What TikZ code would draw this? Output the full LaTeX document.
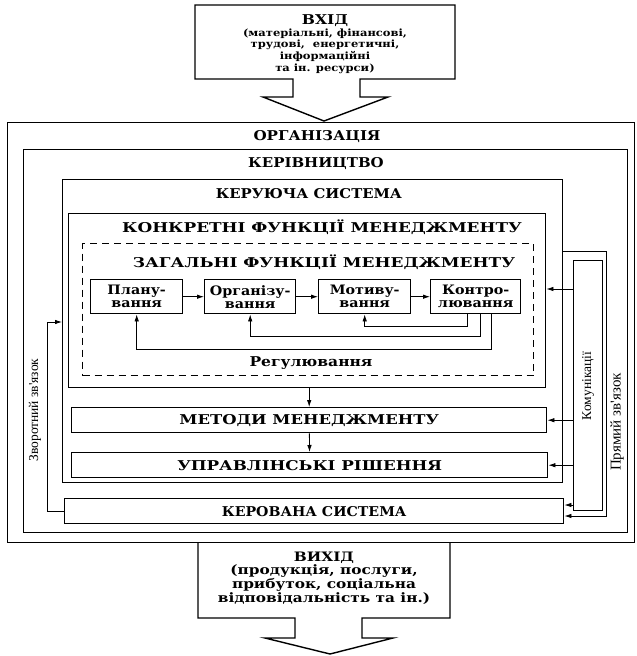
\documentclass[tikz,border=0pt]{standalone}
\usepackage{fontspec}
\usepackage{graphicx}
\setmainfont{DejaVu Serif}
\newfontfamily\vfont{Liberation Serif}
\newfontfamily\wideA[FakeStretch=1.18]{DejaVu Serif}
\newfontfamily\wideB[FakeStretch=1.1]{DejaVu Serif}
\newfontfamily\wideC[FakeStretch=1.15]{DejaVu Serif}
\newcommand\hsc[2]{\scalebox{#1}[1]{#2}}
\usetikzlibrary{arrows.meta}
\begin{document}
\begin{tikzpicture}[x=1pt,y=-1pt,
  box/.style={draw, line width=1.4pt, rectangle, inner sep=0pt, anchor=north west},
  ttl/.style={font=\wideA\bfseries\fontsize{13.5}{14}\selectfont, inner sep=0pt},
  fn/.style={box, font=\wideB\bfseries\fontsize{13}{13}\selectfont, align=center},
  bartxt/.style={box, font=\wideA\bfseries\fontsize{13.5}{14}\selectfont},
  ln/.style={line width=0.8pt},
  arr/.style={ln, -{Latex[length=7pt,width=4.5pt]}},
  vt/.style={font=\vfont\fontsize{13.5}{14}\selectfont, rotate=90, inner sep=0pt}]
\useasboundingbox (0,0) rectangle (637,656);
% input arrow
\draw[line width=1.4pt, line join=miter] (195,5) -- (455,5) -- (455,79) -- (360,79) -- (360,97) -- (388,97) -- (324,121) -- (263,97) -- (293,97) -- (293,79) -- (195,79) -- cycle;
\node[align=center, font=\wideC\bfseries\fontsize{10}{11.8}\selectfont, inner sep=0pt] (in) at (325,44)
  {{\fontsize{13.5}{11.8}\selectfont ВХІД}\\(матеріальні, фінансові,\\трудові,\ \ енергетичні,\\інформаційні\\та ін. ресурси)};
% containers
\node[box, minimum width=627pt, minimum height=420pt] (org) at (7,122) {};
\node[ttl] (orgt) at (317,137) {\hsc{0.95}{ОРГАНІЗАЦІЯ}};
\node[box, minimum width=604pt, minimum height=383pt] (kerivn) at (23,149) {};
\node[ttl] (kerivnt) at (316,164) {\hsc{0.94}{КЕРІВНИЦТВО}};
\node[box, minimum width=500pt, minimum height=303pt] (keru) at (62,179) {};
\node[ttl] (kerut) at (309,194) {\hsc{0.93}{КЕРУЮЧА СИСТЕМА}};
\node[box, minimum width=477pt, minimum height=174pt] (konk) at (68,213) {};
\node[ttl] (konkt) at (322,227) {\hsc{1.06}{КОНКРЕТНІ ФУНКЦІЇ МЕНЕДЖМЕНТУ}};
\node[box, dash pattern=on 7pt off 5pt, minimum width=451pt, minimum height=132pt] (zag) at (82,243) {};
\node[ttl] (zagt) at (324,262) {\hsc{1.065}{ЗАГАЛЬНІ ФУНКЦІЇ МЕНЕДЖМЕНТУ}};
% function boxes
\node[fn, minimum width=92pt, minimum height=34pt] (P) at (90,279) {Плану-\\вання};
\node[fn, minimum width=91pt, minimum height=34pt] (O) at (204,279) {Організу-\\вання};
\node[fn, minimum width=92pt, minimum height=34pt] (M) at (318,279) {Мотиву-\\вання};
\node[fn, minimum width=90pt, minimum height=34pt] (K) at (430,279) {Контро-\\лювання};
\draw[arr] (P) -- (O);
\draw[arr] (O) -- (M);
\draw[arr] (M) -- (K);
\draw[arr] ([xshift=-8pt]K.south) -- ++(0,12) -| (M.south);
\draw[arr] ([xshift=5pt]K.south) -- ++(0,22) -| (O.south);
\draw[arr] ([xshift=16pt]K.south) -- ++(0,35) -| (P.south);
\node[font=\wideC\bfseries\fontsize{13.5}{14}\selectfont, inner sep=0pt] (reg) at (311,363) {Регулювання};
% bars
\node[bartxt, minimum width=475pt, minimum height=25pt] (met) at (71,407) {\hsc{1.03}{МЕТОДИ МЕНЕДЖМЕНТУ}};
\node[bartxt, minimum width=476pt, minimum height=25pt] (upr) at (71,452) {\hsc{1.05}{УПРАВЛІНСЬКІ РІШЕННЯ}};
\node[bartxt, minimum width=499pt, minimum height=25pt] (ker) at (64,498) {\hsc{0.89}{КЕРОВАНА СИСТЕМА}};
\draw[arr] (konk.south -| met.north) -- (met.north);
\draw[arr] (met) -- (upr);
% communications
\node[box, line width=1pt, minimum width=29pt, minimum height=250pt] (comm) at (573,260) {};
\node[vt] (commt) at (588,386) {Комунікації};
\draw[arr] (comm.west |- 0,289) -- (konk.east |- 0,289);
\draw[arr] (comm.west |- met.east) -- (met.east);
\draw[arr] (comm.west |- upr.east) -- (upr.east);
\draw[arr] (comm.west |- 0,505) -- (ker.east |- 0,505);
% direct link
\coordinate (d1) at (606,251);
\coordinate (d2) at (606,516);
\draw[arr] (keru.east |- d1) -- (d1) -- (d2) -- (ker.east |- d2);
\node[vt, font=\vfont\fontsize{15}{15}\selectfont] (dirt) at (617,422) {Прямий зв'язок};
% feedback
\coordinate (f1) at (47,322);
\draw[arr] (ker.west) -| (f1) -- (keru.west |- f1);
\node[vt] (fbt) at (35,410) {Зворотний зв'язок};
% output
\draw[line width=1.4pt, line join=miter] (198,542) -- (198,618) -- (295,618) -- (295,638) -- (265,638) -- (330,654) -- (393,638) -- (362,638) -- (362,618) -- (450,618) -- (450,542);
\node[align=center, font=\wideA\bfseries\fontsize{13}{11.8}\selectfont, inner sep=0pt] (out) at (324,578)
  {ВИХІД\\(продукція, послуги,\\прибуток, соціальна\\відповідальність та ін.)};
\end{tikzpicture}
\end{document}
